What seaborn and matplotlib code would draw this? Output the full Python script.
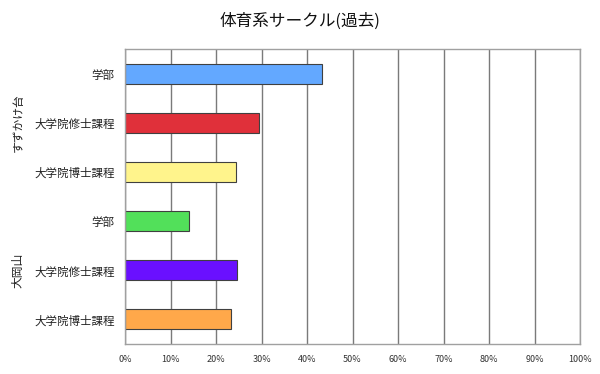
import matplotlib
matplotlib.use("Agg")
import matplotlib.pyplot as plt
import seaborn as sns
import pandas as pd

groups = ["すずかけ台", "すずかけ台", "すずかけ台", "大岡山", "大岡山", "大岡山"]
levels = ["学部", "大学院修士課程", "大学院博士課程", "学部", "大学院修士課程", "大学院博士課程"]
values = [43.2, 29.5, 24.3, 14.1, 24.6, 23.2]
colors = ["#63A8FF", "#E0303A", "#FFF48C", "#52E05A", "#6A10FF", "#FFA84A"]
xticks = [0, 10, 20, 30, 40, 50, 60, 70, 80, 90, 100]
title = "体育系サークル(過去)"

sns.set_theme(style="white")
plt.rcParams['font.family'] = ['Noto Sans CJK JP', 'DejaVu Sans']

keys = [f"{g}/{l}" for g, l in zip(groups, levels)]
df = pd.DataFrame({"key": keys, "value": values})

fig = plt.figure(figsize=(6, 3.74), dpi=100)
ax = fig.add_axes([125/600, 1-344/374, 455/600, 295/374])
sns.barplot(data=df, x="value", y="key", hue="key", palette=colors, order=keys,
            saturation=1, width=0.41, edgecolor="#404040", linewidth=0.8,
            legend=False, ax=ax)

ax.set_xlim(0, 100)
ax.set_xticks(xticks)
ax.set_xticklabels([f"{t}%" for t in xticks], fontsize=6.5, color="#333333")
ax.set_yticks(range(len(levels)))
ax.set_yticklabels(levels, fontsize=8.3, color="#222222")
ax.tick_params(axis="x", length=0, pad=8)
ax.tick_params(axis="y", length=0, pad=7.5)
ax.set_xlabel("")
ax.set_ylabel("")
ax.set_axisbelow(True)
ax.xaxis.grid(True, color="#7a7a7a", linewidth=1.0)
for s in ax.spines.values():
    s.set_color("#a0a0a0")
    s.set_linewidth(1.0)

# group labels
group_names = ["すずかけ台", "大岡山"]
group_pos = [1.0, 4.0]
tr = ax.get_yaxis_transform()
for name, pos in zip(group_names, group_pos):
    ax.text((18 - 125) / 455, pos, name, transform=tr, rotation=90,
            ha="center", va="center", fontsize=8.5, color="#222222")

fig.text(0.5, 1-21/374, title, ha="center", va="center", fontsize=12, color="#111111")

fig.savefig("out.png", dpi=100)
